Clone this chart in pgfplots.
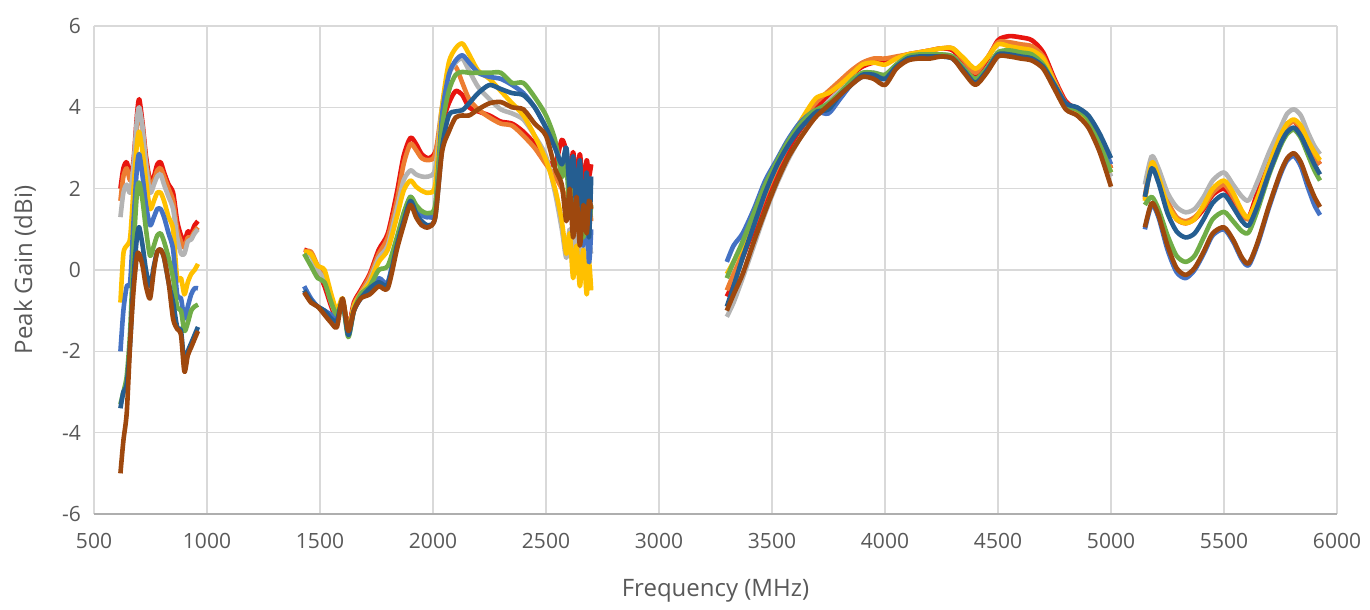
\documentclass[border=0pt]{standalone}
\usepackage{pgfplots}
\pgfplotsset{compat=1.18}
\usepackage{fontspec}
\setmainfont{Open Sans}
\definecolor{txt}{HTML}{595959}
\definecolor{gridc}{HTML}{D9D9D9}
\definecolor{sred}{HTML}{E8150F}
\definecolor{sorange}{HTML}{ED7D31}
\definecolor{sgray}{HTML}{B4B4B4}
\definecolor{syellow}{HTML}{FFC000}
\definecolor{sblue}{HTML}{4472C4}
\definecolor{sgreen}{HTML}{70AD47}
\definecolor{sdblue}{HTML}{255E91}
\definecolor{sbrown}{HTML}{9E480E}
\begin{document}
\begin{tikzpicture}
\begin{axis}[
  name=ax,
  scale only axis,
  width=621.5pt, height=244pt,
  xmin=500, xmax=6000, ymin=-6, ymax=6,
  xtick={500,1000,...,6000},
  xticklabels={500,1000,1500,2000,2500,3000,3500,4000,4500,5000,5500,6000},
  ytick={-6,-4,...,6},
  yticklabels={-6,-4,-2,0,2,4,6},
  grid=major,
  major grid style={draw=gridc, line width=0.75pt},
  axis x line*=bottom, axis y line*=left,
  x axis line style={draw=gridc!80!black, line width=0.75pt, -},
  y axis line style={draw=none},
  major tick length=0pt,
  tick label style={font=\fontsize{10.5}{12}\selectfont, text=txt},
  xticklabel style={yshift=-6pt},
  yticklabel style={xshift=-3pt},
  label style={font=\fontsize{12}{14}\selectfont, text=txt},
  xlabel={Frequency (MHz)},
  ylabel={Peak Gain (dBi)},
  xlabel style={at={(axis description cs:0.5,0)}, anchor=center, yshift=-38.5pt},
  ylabel style={at={(axis description cs:0,0.5)}, anchor=center, yshift=34.5pt},
  unbounded coords=jump,
  every axis plot/.append style={line width=2.3pt, smooth, tension=0.45, line join=round},
]
% red
\addplot[color=sred] coordinates {
(617,2.0)(630,2.5)(645,2.65)(660,2.3)(675,2.7)(690,3.8)(700,4.2)(715,3.6)(730,2.8)(748,2.2)(765,2.3)(780,2.6)(795,2.65)(810,2.4)(830,2.1)(850,1.9)(868,1.2)(885,0.85)(900,0.7)(915,0.95)(930,0.9)(945,1.1)(960,1.2)
(1200,nan)
(1430,0.5)(1460,0.4)(1490,0.0)(1520,-0.4)(1550,-0.9)(1575,-1.2)(1600,-0.8)(1625,-1.4)(1650,-0.8)(1680,-0.5)(1720,-0.1)(1760,0.5)(1800,0.9)(1840,1.9)(1870,2.8)(1900,3.25)(1925,3.1)(1950,2.85)(1980,2.75)(2010,2.9)(2040,3.6)(2070,4.1)(2100,4.4)(2130,4.3)(2160,4.0)(2200,3.9)(2250,3.8)(2300,3.65)(2350,3.6)(2400,3.4)(2450,3.1)(2500,2.7)(2540,2.6)(2570,3.2)(2590,2.9)(2605,2.3)(2620,2.9)(2635,2.2)(2650,2.85)(2665,2.0)(2680,2.7)(2690,2.3)(2700,2.6)
(3000,nan)
(3300,-0.65)(3330,-0.3)(3370,0.3)(3420,1.0)(3470,1.75)(3520,2.4)(3570,2.95)(3620,3.4)(3670,3.8)(3700,4.0)(3750,4.3)(3800,4.55)(3850,4.8)(3900,5.0)(3950,5.1)(4000,5.1)(4050,5.2)(4100,5.3)(4150,5.35)(4200,5.4)(4250,5.45)(4300,5.4)(4350,5.1)(4400,4.8)(4450,5.15)(4500,5.65)(4550,5.75)(4600,5.72)(4650,5.65)(4700,5.35)(4750,4.7)(4800,4.15)(4850,3.95)(4900,3.75)(4950,3.2)(5000,2.5)
(5080,nan)
(5150,1.75)(5180,2.6)(5210,2.3)(5250,1.65)(5290,1.25)(5330,1.15)(5370,1.25)(5410,1.5)(5450,1.85)(5500,2.0)(5540,1.75)(5580,1.35)(5610,1.3)(5650,1.95)(5700,2.75)(5750,3.35)(5780,3.6)(5810,3.65)(5840,3.45)(5870,3.1)(5900,2.8)(5925,2.6)
};
% orange
\addplot[color=sorange] coordinates {
(617,1.7)(630,2.3)(645,2.5)(660,2.2)(675,2.5)(690,3.5)(700,3.9)(715,3.5)(730,2.7)(748,2.1)(765,2.2)(780,2.45)(795,2.5)(810,2.3)(830,2.0)(850,1.7)(868,1.0)(885,0.7)(900,0.55)(915,0.8)(930,0.8)(945,0.95)(960,1.05)
(1200,nan)
(1430,0.45)(1460,0.45)(1490,0.1)(1520,-0.2)(1550,-0.8)(1575,-1.1)(1600,-0.75)(1625,-1.45)(1650,-0.85)(1680,-0.55)(1720,-0.15)(1760,0.4)(1800,0.8)(1840,1.7)(1870,2.6)(1900,3.1)(1925,2.95)(1950,2.75)(1980,2.7)(2010,2.85)(2040,4.0)(2070,4.9)(2100,5.0)(2130,4.6)(2160,4.2)(2200,3.95)(2250,3.75)(2300,3.6)(2350,3.55)(2400,3.3)(2450,3.0)(2500,2.6)(2540,2.3)(2570,2.0)(2590,1.7)(2605,2.2)(2620,1.3)(2635,2.0)(2650,1.0)(2665,1.8)(2680,0.8)(2690,1.6)(2700,1.2)
(3000,nan)
(3300,-0.5)(3330,-0.1)(3370,0.4)(3420,1.1)(3470,1.85)(3520,2.5)(3570,3.05)(3620,3.5)(3670,3.95)(3700,4.15)(3750,4.4)(3800,4.65)(3850,4.9)(3900,5.1)(3950,5.2)(4000,5.2)(4050,5.25)(4100,5.3)(4150,5.35)(4200,5.4)(4250,5.45)(4300,5.45)(4350,5.15)(4400,4.85)(4450,5.2)(4500,5.6)(4550,5.6)(4600,5.55)(4650,5.5)(4700,5.25)(4750,4.65)(4800,4.1)(4850,3.95)(4900,3.75)(4950,3.2)(5000,2.5)
(5080,nan)
(5150,1.8)(5180,2.7)(5210,2.35)(5250,1.7)(5290,1.3)(5330,1.2)(5370,1.3)(5410,1.55)(5450,1.9)(5500,2.1)(5540,1.8)(5580,1.4)(5610,1.25)(5650,1.75)(5700,2.55)(5750,3.25)(5780,3.55)(5810,3.65)(5840,3.5)(5870,3.15)(5900,2.8)(5925,2.6)
};
% gray
\addplot[color=sgray] coordinates {
(617,1.3)(630,1.9)(645,2.1)(660,1.9)(675,2.6)(690,3.7)(700,4.0)(715,3.5)(730,2.6)(748,1.9)(765,2.1)(780,2.3)(795,2.35)(810,2.1)(830,1.8)(850,1.5)(868,0.8)(885,0.4)(900,0.4)(915,0.7)(930,0.75)(945,0.9)(960,1.0)
(1200,nan)
(1430,0.4)(1460,0.35)(1490,0.0)(1520,-0.25)(1550,-0.8)(1575,-1.1)(1600,-0.75)(1625,-1.5)(1650,-0.9)(1680,-0.6)(1720,-0.25)(1760,0.3)(1800,0.6)(1840,1.5)(1870,2.2)(1900,2.45)(1925,2.35)(1950,2.3)(1980,2.3)(2010,2.5)(2040,4.0)(2070,4.8)(2100,5.1)(2130,5.2)(2160,4.9)(2200,4.5)(2250,4.2)(2300,3.95)(2350,3.85)(2400,3.7)(2450,3.3)(2500,2.8)(2540,1.9)(2570,1.0)(2590,0.3)(2605,1.0)(2620,0.0)(2635,0.9)(2650,-0.1)(2665,0.8)(2680,0.0)(2690,0.6)(2700,0.4)
(3000,nan)
(3300,-1.15)(3330,-0.8)(3370,-0.2)(3420,0.6)(3470,1.4)(3520,2.1)(3570,2.7)(3620,3.2)(3670,3.6)(3700,3.85)(3750,4.15)(3800,4.4)(3850,4.6)(3900,4.8)(3950,4.85)(4000,4.8)(4050,5.05)(4100,5.2)(4150,5.25)(4200,5.25)(4250,5.3)(4300,5.25)(4350,4.95)(4400,4.65)(4450,4.95)(4500,5.35)(4550,5.35)(4600,5.3)(4650,5.25)(4700,5.05)(4750,4.5)(4800,4.0)(4850,3.85)(4900,3.6)(4950,3.0)(5000,2.3)
(5080,nan)
(5150,2.1)(5180,2.8)(5210,2.5)(5250,1.9)(5290,1.55)(5330,1.42)(5370,1.5)(5410,1.8)(5450,2.2)(5500,2.4)(5540,2.1)(5580,1.8)(5610,1.72)(5650,2.2)(5700,2.9)(5750,3.5)(5780,3.85)(5810,3.95)(5840,3.8)(5870,3.4)(5900,3.05)(5925,2.85)
};
% yellow
\addplot[color=syellow] coordinates {
(617,-0.8)(630,0.4)(645,0.6)(660,0.8)(675,2.0)(690,3.1)(700,3.4)(715,2.9)(730,2.2)(748,1.5)(765,1.7)(780,1.9)(795,1.9)(810,1.7)(830,1.3)(850,1.0)(868,-0.2)(885,-0.2)(900,-0.6)(915,-0.3)(930,-0.1)(945,0.0)(960,0.15)
(1200,nan)
(1430,0.45)(1460,0.4)(1490,0.1)(1520,0.0)(1550,-0.6)(1575,-1.0)(1600,-0.7)(1625,-1.5)(1650,-0.9)(1680,-0.6)(1720,-0.3)(1760,0.2)(1800,0.5)(1840,1.3)(1870,1.95)(1900,2.2)(1925,2.05)(1950,1.95)(1980,1.9)(2010,2.1)(2040,4.0)(2070,5.1)(2100,5.45)(2130,5.57)(2160,5.3)(2200,4.9)(2250,4.7)(2300,4.4)(2350,4.1)(2400,3.8)(2450,3.3)(2500,2.7)(2540,2.0)(2570,1.2)(2590,0.4)(2605,0.9)(2620,-0.2)(2635,0.6)(2650,-0.4)(2665,0.5)(2680,-0.6)(2690,0.2)(2700,-0.5)
(3000,nan)
(3300,-0.1)(3330,0.2)(3370,0.6)(3420,1.2)(3470,1.9)(3520,2.55)(3570,3.1)(3620,3.6)(3670,4.05)(3700,4.25)(3750,4.35)(3800,4.55)(3850,4.8)(3900,5.05)(3950,5.1)(4000,5.05)(4050,5.2)(4100,5.3)(4150,5.35)(4200,5.4)(4250,5.45)(4300,5.45)(4350,5.2)(4400,4.95)(4450,5.2)(4500,5.55)(4550,5.5)(4600,5.45)(4650,5.4)(4700,5.2)(4750,4.6)(4800,4.05)(4850,3.9)(4900,3.65)(4950,3.1)(5000,2.4)
(5080,nan)
(5150,1.7)(5180,2.65)(5210,2.3)(5250,1.6)(5290,1.25)(5330,1.15)(5370,1.25)(5410,1.6)(5450,2.0)(5500,2.2)(5540,1.9)(5580,1.45)(5610,1.3)(5650,1.8)(5700,2.6)(5750,3.3)(5780,3.6)(5810,3.7)(5840,3.55)(5870,3.2)(5900,2.9)(5925,2.7)
};
% blue
\addplot[color=sblue] coordinates {
(617,-2.0)(630,-1.0)(645,-0.4)(660,-0.3)(675,1.2)(690,2.5)(700,2.85)(715,2.3)(730,1.6)(748,1.1)(765,1.3)(780,1.5)(795,1.5)(810,1.3)(830,0.9)(850,0.5)(868,-0.6)(885,-0.7)(900,-1.2)(915,-0.9)(930,-0.6)(945,-0.45)(960,-0.45)
(1200,nan)
(1430,-0.4)(1460,-0.7)(1490,-0.9)(1520,-1.0)(1550,-1.1)(1575,-1.2)(1600,-0.8)(1625,-1.55)(1650,-1.0)(1680,-0.7)(1720,-0.5)(1760,-0.2)(1800,-0.3)(1840,0.7)(1870,1.3)(1900,1.8)(1925,1.5)(1950,1.35)(1980,1.3)(2010,1.5)(2040,3.8)(2070,4.8)(2100,5.15)(2130,5.28)(2160,5.1)(2200,4.85)(2250,4.75)(2300,4.7)(2350,4.55)(2400,4.35)(2450,4.0)(2500,3.5)(2540,3.1)(2570,2.5)(2590,3.0)(2605,1.8)(2620,2.6)(2635,1.2)(2650,2.4)(2665,0.6)(2680,2.2)(2690,0.2)(2700,1.0)
(3000,nan)
(3300,0.2)(3330,0.6)(3370,0.9)(3420,1.5)(3470,2.2)(3520,2.7)(3570,3.2)(3620,3.6)(3670,3.85)(3700,3.9)(3750,3.85)(3800,4.2)(3850,4.55)(3900,4.75)(3950,4.75)(4000,4.7)(4050,5.0)(4100,5.2)(4150,5.25)(4200,5.25)(4250,5.25)(4300,5.2)(4350,4.9)(4400,4.6)(4450,4.9)(4500,5.3)(4550,5.3)(4600,5.25)(4650,5.2)(4700,5.0)(4750,4.55)(4800,4.05)(4850,3.95)(4900,3.75)(4950,3.25)(5000,2.6)
(5080,nan)
(5150,1.0)(5180,1.6)(5210,1.3)(5250,0.5)(5290,-0.05)(5330,-0.2)(5370,0.0)(5410,0.4)(5450,0.85)(5500,1.0)(5540,0.7)(5580,0.25)(5610,0.12)(5650,0.65)(5700,1.55)(5750,2.35)(5780,2.7)(5810,2.8)(5840,2.55)(5870,2.05)(5900,1.6)(5925,1.35)
};
% green
\addplot[color=sgreen] coordinates {
(617,-3.3)(630,-3.0)(645,-2.6)(660,-1.5)(675,0.5)(690,1.9)(700,2.15)(715,1.7)(730,1.0)(748,0.35)(765,0.6)(780,0.85)(795,0.9)(810,0.7)(830,0.3)(850,-0.2)(868,-0.9)(885,-1.0)(900,-1.5)(915,-1.3)(930,-1.0)(945,-0.9)(960,-0.85)
(1200,nan)
(1430,0.4)(1460,0.1)(1490,-0.2)(1520,-0.3)(1550,-0.8)(1575,-1.1)(1600,-0.8)(1625,-1.65)(1650,-1.0)(1680,-0.6)(1720,-0.4)(1760,0.0)(1800,0.1)(1840,0.8)(1870,1.4)(1900,1.8)(1925,1.6)(1950,1.45)(1980,1.4)(2010,1.6)(2040,3.5)(2070,4.4)(2100,4.8)(2130,4.87)(2160,4.85)(2200,4.85)(2250,4.85)(2300,4.85)(2350,4.6)(2400,4.6)(2450,4.25)(2500,3.8)(2540,3.2)(2570,2.3)(2590,2.6)(2605,1.4)(2620,2.4)(2635,1.0)(2650,2.2)(2665,0.8)(2680,2.0)(2690,1.2)(2700,1.6)
(3000,nan)
(3300,-0.2)(3330,0.2)(3370,0.7)(3420,1.4)(3470,2.1)(3520,2.65)(3570,3.15)(3620,3.55)(3670,3.85)(3700,3.95)(3750,4.1)(3800,4.35)(3850,4.65)(3900,4.85)(3950,4.85)(4000,4.8)(4050,5.05)(4100,5.25)(4150,5.3)(4200,5.3)(4250,5.3)(4300,5.25)(4350,4.95)(4400,4.7)(4450,4.95)(4500,5.35)(4550,5.4)(4600,5.35)(4650,5.3)(4700,5.05)(4750,4.55)(4800,4.05)(4850,3.95)(4900,3.7)(4950,3.1)(5000,2.4)
(5080,nan)
(5150,1.6)(5180,1.8)(5210,1.5)(5250,0.85)(5290,0.35)(5330,0.2)(5370,0.35)(5410,0.8)(5450,1.25)(5500,1.43)(5540,1.2)(5580,0.95)(5610,0.93)(5650,1.5)(5700,2.35)(5750,3.05)(5780,3.35)(5810,3.45)(5840,3.25)(5870,2.85)(5900,2.45)(5925,2.2)
};
% dark blue
\addplot[color=sdblue] coordinates {
(617,-3.4)(630,-3.0)(645,-2.8)(660,-1.8)(675,-0.2)(690,0.8)(700,1.05)(715,0.6)(730,0.0)(748,-0.4)(765,0.1)(780,0.45)(795,0.5)(810,0.3)(830,-0.3)(850,-0.8)(868,-1.4)(885,-1.5)(900,-2.3)(915,-2.0)(930,-1.8)(945,-1.6)(960,-1.4)
(1200,nan)
(1430,-0.5)(1460,-0.75)(1490,-0.9)(1520,-1.0)(1550,-1.2)(1575,-1.25)(1600,-0.75)(1625,-1.6)(1650,-1.0)(1680,-0.7)(1720,-0.45)(1760,-0.3)(1800,-0.35)(1840,0.6)(1870,1.2)(1900,1.7)(1925,1.4)(1950,1.2)(1980,1.1)(2010,1.3)(2040,3.0)(2070,3.8)(2100,3.9)(2130,3.93)(2160,4.1)(2200,4.35)(2250,4.55)(2300,4.45)(2350,4.35)(2400,4.3)(2450,4.0)(2500,3.5)(2540,3.0)(2570,2.6)(2590,3.0)(2605,2.0)(2620,2.8)(2635,1.5)(2650,2.7)(2665,1.0)(2680,2.4)(2690,0.8)(2700,2.3)
(3000,nan)
(3300,-0.9)(3330,-0.4)(3370,0.3)(3420,1.1)(3470,1.9)(3520,2.55)(3570,3.05)(3620,3.45)(3670,3.75)(3700,3.9)(3750,3.95)(3800,4.3)(3850,4.55)(3900,4.8)(3950,4.8)(4000,4.7)(4050,5.0)(4100,5.2)(4150,5.25)(4200,5.25)(4250,5.25)(4300,5.2)(4350,4.9)(4400,4.6)(4450,4.9)(4500,5.3)(4550,5.3)(4600,5.25)(4650,5.2)(4700,5.0)(4750,4.55)(4800,4.1)(4850,4.0)(4900,3.8)(4950,3.35)(5000,2.75)
(5080,nan)
(5150,1.8)(5180,2.5)(5210,2.15)(5250,1.4)(5290,0.95)(5330,0.8)(5370,0.9)(5410,1.25)(5450,1.65)(5500,1.85)(5540,1.55)(5580,1.2)(5610,1.1)(5650,1.6)(5700,2.4)(5750,3.1)(5780,3.4)(5810,3.5)(5840,3.3)(5870,2.95)(5900,2.6)(5925,2.35)
};
% brown
\addplot[color=sbrown] coordinates {
(617,-5.0)(630,-4.2)(645,-3.5)(660,-1.8)(675,-0.5)(690,0.35)(700,0.4)(715,0.1)(730,-0.4)(748,-0.7)(765,0.0)(780,0.45)(795,0.5)(810,0.3)(830,-0.3)(850,-1.2)(868,-1.45)(885,-1.6)(900,-2.5)(915,-2.1)(930,-1.9)(945,-1.7)(960,-1.5)
(1200,nan)
(1430,-0.55)(1460,-0.8)(1490,-0.9)(1520,-1.1)(1550,-1.3)(1575,-1.4)(1600,-0.7)(1625,-1.5)(1650,-1.0)(1680,-0.7)(1720,-0.6)(1760,-0.4)(1800,-0.45)(1840,0.5)(1870,1.1)(1900,1.6)(1925,1.3)(1950,1.1)(1980,1.05)(2010,1.3)(2040,2.9)(2070,3.4)(2100,3.75)(2130,3.8)(2160,3.8)(2200,3.95)(2250,4.1)(2300,4.13)(2350,4.0)(2400,3.95)(2450,3.6)(2500,3.3)(2540,2.5)(2570,2.1)(2590,1.2)(2605,2.0)(2620,0.8)(2635,1.8)(2650,0.6)(2665,1.6)(2680,0.9)(2690,1.7)(2700,1.5)
(3000,nan)
(3300,-1.0)(3330,-0.6)(3370,-0.1)(3420,0.7)(3470,1.45)(3520,2.15)(3570,2.75)(3620,3.2)(3670,3.6)(3700,3.8)(3750,4.05)(3800,4.3)(3850,4.55)(3900,4.75)(3950,4.7)(4000,4.55)(4050,4.95)(4100,5.15)(4150,5.2)(4200,5.2)(4250,5.25)(4300,5.2)(4350,4.85)(4400,4.55)(4450,4.85)(4500,5.25)(4550,5.25)(4600,5.2)(4650,5.15)(4700,4.95)(4750,4.45)(4800,3.95)(4850,3.8)(4900,3.5)(4950,2.9)(5000,2.05)
(5080,nan)
(5150,1.05)(5180,1.65)(5210,1.35)(5250,0.6)(5290,0.05)(5330,-0.12)(5370,0.05)(5410,0.45)(5450,0.9)(5500,1.05)(5540,0.75)(5580,0.3)(5610,0.17)(5650,0.7)(5700,1.6)(5750,2.4)(5780,2.75)(5810,2.87)(5840,2.65)(5870,2.2)(5900,1.8)(5925,1.55)
};
\end{axis}
\path[use as bounding box] ([shift={(-47pt,-47pt)}]ax.south west) rectangle ([shift={(16.5pt,13pt)}]ax.north east);
\end{tikzpicture}
\end{document}
